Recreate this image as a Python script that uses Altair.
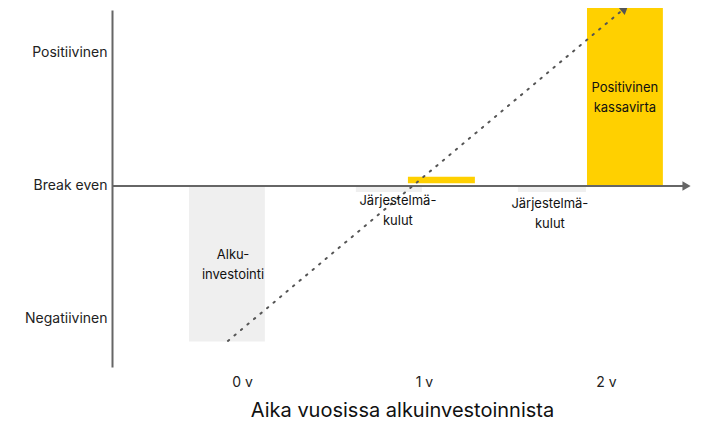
import altair as alt
import pandas as pd

# Bars (x in years, y in relative cash-flow units)
bar_kind = ["Alkuinvestointi", "Järjestelmäkulut 1", "Säästö 1", "Järjestelmäkulut 2", "Positiivinen kassavirta"]
bar_x0 = [-0.291, 0.626, 0.912, 1.516, 1.896]
bar_x1 = [0.126, 0.989, 1.280, 1.890, 2.313]
bar_y0 = [0.0, 0.0, 0.02, 0.0, 0.0]
bar_y1 = [-1.17, -0.045, 0.07, -0.045, 1.338]
bar_color = ["#EFEFEF", "#EFEFEF", "#FFD000", "#EFEFEF", "#FFD000"]

# Annotations (y = first line position)
label_text = [["Alku-", "investointi"], ["Järjestelmä-", "kulut"], ["Järjestelmä-", "kulut"], ["Positivinen", "kassavirta"]]
label_x = [-0.049, 0.857, 1.692, 2.104]
label_y = [-0.519, -0.113, -0.135, 0.737]

# Trend arrow
trend_x = [-0.077, 2.104]
trend_y = [-1.165, 1.338]

# Axes
y_ticks = [-1, 0, 1]
y_tick_labels = ["Negatiivinen", "Break even", "Positiivinen"]
x_ticks = [0, 1, 2]
x_domain = [-0.714, 2.473]
y_domain = [-1.361, 1.323]

bars = pd.DataFrame({"kind": bar_kind, "x0": bar_x0, "x1": bar_x1, "y0": bar_y0, "y1": bar_y1, "color": bar_color})
labels = pd.DataFrame({"text": label_text, "x": label_x, "y": label_y})
trend = pd.DataFrame({"x": trend_x, "y": trend_y})
head = pd.DataFrame({"x": [trend_x[1]], "y": [trend_y[1]]})
xaxis = pd.DataFrame({"x0": [x_domain[0]], "x1": [x_domain[1] - 0.04], "y": [0.0]})
xhead = pd.DataFrame({"x": [x_domain[1] - 0.03], "y": [0.0]})

label_expr = "datum.value == 1 ? 'Positiivinen' : datum.value == 0 ? 'Break even' : 'Negatiivinen'"

xs = alt.Scale(domain=x_domain, nice=False, zero=False)
ys = alt.Scale(domain=y_domain, nice=False, zero=False)

base_x_axis = alt.Axis(values=x_ticks, labelExpr="datum.value + ' v'", domain=False, ticks=False, grid=False,
                       labelFontSize=14, labelColor="#222222", labelPadding=8, labelFont="Inter",
                       title="Aika vuosissa alkuinvestoinnista", titleFontSize=20, titleFontWeight="normal",
                       titleColor="#111111", titlePadding=11, titleFont="Inter")
base_y_axis = alt.Axis(values=y_ticks, labelExpr=label_expr, domain=True, domainColor="#666666", domainWidth=2,
                       ticks=False, grid=False, labelFontSize=14, labelColor="#222222", labelPadding=5,
                       labelFont="Inter", title=None)

bar_layer = alt.Chart(bars).mark_rect().encode(
    x=alt.X("x0:Q", scale=xs, axis=base_x_axis),
    x2="x1:Q",
    y=alt.Y("y0:Q", scale=ys, axis=base_y_axis),
    y2="y1:Q",
    color=alt.Color("color:N", scale=None),
)

axis_rule = alt.Chart(xaxis).mark_rule(color="#666666", strokeWidth=2).encode(
    x="x0:Q", x2="x1:Q", y="y:Q"
)
axis_head = alt.Chart(xhead).mark_point(shape="triangle-right", filled=True, color="#666666", size=90, opacity=1).encode(
    x="x:Q", y="y:Q"
)

trend_line = alt.Chart(trend).mark_line(color="#555555", strokeWidth=2, strokeDash=[1.5, 7], strokeCap="round").encode(
    x="x:Q", y="y:Q"
)
trend_head = alt.Chart(head).mark_point(shape="triangle-up", filled=True, color="#555555", size=110, angle=50, opacity=1).encode(
    x="x:Q", y="y:Q"
)

text_layer = alt.Chart(labels).mark_text(fontSize=13, font="Inter", color="#111111", lineHeight=20, align="center", baseline="middle").encode(
    x="x:Q", y="y:Q", text="text"
)

chart = alt.layer(bar_layer, axis_rule, axis_head, trend_line, trend_head, text_layer).properties(
    width=580, height=357,
    autosize=alt.AutoSizeParams(type="none"),
    padding={"left": 104, "top": 2, "right": 1, "bottom": 56},
).configure_view(stroke=None)

chart.save("out.html", embed_options={"renderer": "svg", "actions": False})
